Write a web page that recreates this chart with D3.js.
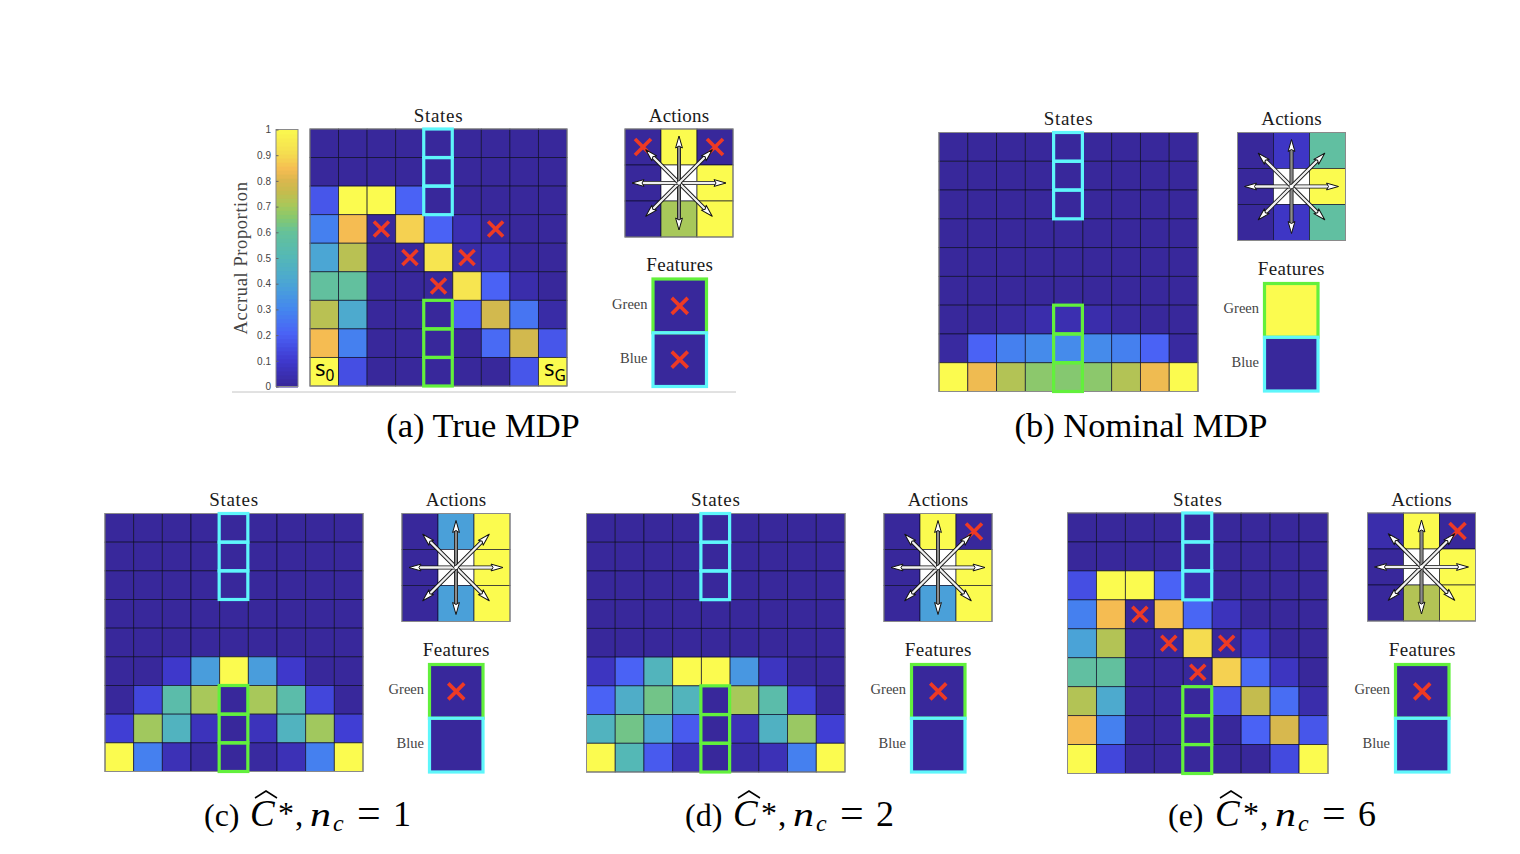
<!DOCTYPE html>
<html>
<head>
<meta charset="utf-8">
<script src="https://cdn.jsdelivr.net/npm/d3@7"></script>
<style>
  html, body { margin: 0; padding: 0; background: #fff; }
  svg { font-family: "Liberation Serif", serif; }
</style>
</head>
<body>
<svg id="chart" width="1520" height="854"></svg>
<script>
// accrual proportion per state, row 0 is the top row
const statesA = [
  [0, 0, 0, 0, 0, 0, 0, 0, 0],
  [0, 0, 0, 0, 0, 0, 0, 0, 0],
  [.17, 1, 1, .2, 0, 0, 0, 0, 0],
  [.28, .84, 0, .88, .2, .04, 0, 0, 0],
  [.4, .73, 0, 0, .93, .02, .04, 0, 0],
  [.58, .58, 0, 0, 0, .93, .2, .03, 0],
  [.73, .42, 0, 0, 0, .2, .78, .25, .02],
  [.84, .28, 0, 0, 0, 0, .22, .78, .17],
  [1, .15, 0, 0, 0, 0, 0, .17, 1]
];
const statesB = [
  [0, 0, 0, 0, 0, 0, 0, 0, 0],
  [0, 0, 0, 0, 0, 0, 0, 0, 0],
  [0, 0, 0, 0, 0, 0, 0, 0, 0],
  [0, 0, 0, 0, 0, 0, 0, 0, 0],
  [0, 0, 0, 0, 0, 0, 0, 0, 0],
  [0, 0, 0, 0, 0, 0, 0, 0, 0],
  [0, 0, .01, .03, .04, .03, .01, 0, 0],
  [.01, .2, .28, .31, .31, .31, .28, .2, .01],
  [1, .83, .72, .66, .65, .66, .72, .83, 1]
];
const statesC = [
  [0, 0, 0, 0, 0, 0, 0, 0, 0],
  [0, 0, 0, 0, 0, 0, 0, 0, 0],
  [0, 0, 0, 0, 0, 0, 0, 0, 0],
  [0, 0, 0, 0, 0, 0, 0, 0, 0],
  [0, 0, 0, 0, 0, 0, 0, 0, 0],
  [0, 0, .09, .37, 1, .37, .09, 0, 0],
  [0, .13, .54, .7, 0, .7, .54, .13, 0],
  [.11, .69, .47, .06, 0, .06, .47, .69, .11],
  [1, .28, .05, .01, 0, .01, .05, .28, 1]
];
const statesD = [
  [0, 0, 0, 0, 0, 0, 0, 0, 0],
  [0, 0, 0, 0, 0, 0, 0, 0, 0],
  [0, 0, 0, 0, 0, 0, 0, 0, 0],
  [0, 0, 0, 0, 0, 0, 0, 0, 0],
  [0, 0, 0, 0, 0, 0, 0, 0, 0],
  [.07, .2, .48, 1, 1, .35, .07, 0, 0],
  [.2, .44, .62, .48, 0, .7, .54, .12, 0],
  [.47, .62, .4, .18, 0, .05, .46, .68, .11],
  [1, .5, .18, .05, 0, .02, .05, .28, 1]
];
const statesE = [
  [0, 0, 0, 0, 0, 0, 0, 0, 0],
  [0, 0, 0, 0, 0, 0, 0, 0, 0],
  [.15, 1, 1, .2, .03, 0, 0, 0, 0],
  [.28, .84, 0, .85, .21, .06, 0, 0, 0],
  [.39, .72, 0, 0, .9, 0, .07, 0, 0],
  [.57, .58, 0, 0, 0, .88, .22, .07, 0],
  [.72, .42, 0, 0, 0, .17, .75, .23, .03],
  [.84, .28, 0, 0, 0, 0, .2, .79, .17],
  [1, .13, 0, 0, 0, 0, 0, .14, 1]
];

// null is the white centre cell under the arrows
const actionsA = [[0, 1, 0], [0, null, 1], [0, .7, 1]];
const actionsB = [[0, .08, .57], [0, null, 1], [0, .08, .57]];
const actionsC = [[0, .38, 1], [0, null, 1], [0, .38, 1]];
const actionsD = [[0, 1, 0], [0, null, 1], [0, .38, 1]];
const actionsE = [[.03, 1, 0], [0, null, 1], [0, .72, 1]];

const featuresA = [0, 0];
const featuresB = [1, 0];
const featuresC = [0, 0];
const featuresD = [0, 0];
const featuresE = [0, 0];

// [row, col] of the crossed out cells
const crossesStatesA = [[3, 2], [3, 6], [4, 3], [4, 5], [5, 4]];
const crossesStatesE = [[3, 2], [4, 3], [4, 5], [5, 4]];
const crossesActionsA = [[0, 0], [0, 2]];
const crossesActionsD = [[0, 2]];
const crossesFeaturesA = [0, 1];
const crossesFeaturesC = [0];

const featureNames = ["Green", "Blue"];
const colorbarTicks = [0, .1, .2, .3, .4, .5, .6, .7, .8, .9, 1];
const colormapStops = [0, .1, .2, .3, .4, .5, .6, .65, .7, .75, .8, .84, .9, 1];
const colormapColors = ["#38289b", "#3f3ad0", "#4a62f5", "#4488ee", "#4ba6d4", "#54b8b6", "#66c298",
  "#85c870", "#a8c85a", "#c4bc4e", "#dcb74e", "#f5bc52", "#f5dc50", "#fbfb4f"];

const color = d3.scaleLinear().domain(colormapStops).range(colormapColors);

const CYAN = "#5ef6fb", GREEN = "#62f03c", RED = "#ee3a24";

const svg = d3.select("#chart");

function crossAt(g, cx, cy, r) {
  g.append("path")
    .attr("d", `M${cx - r},${cy - r}L${cx + r},${cy + r}M${cx + r},${cy - r}L${cx - r},${cy + r}`)
    .attr("stroke", RED).attr("stroke-width", 3.6).attr("fill", "none");
}

function title(g, x, y, label, spacing) {
  g.append("text").attr("x", x).attr("y", y)
    .attr("text-anchor", "middle")
    .attr("font-size", 19).attr("letter-spacing", spacing).attr("fill", "#1a1a1a")
    .text(label);
}

function drawStates(g, values, crosses, size) {
  const idx = d3.range(9);
  const x = d3.scaleBand().domain(idx).range([0, size]);
  const y = d3.scaleBand().domain(idx).range([0, size]);

  g.selectAll(".row").data(values).enter().append("g")
    .attr("transform", (d, i) => `translate(0,${y(i)})`)
    .selectAll("rect").data(d => d).enter().append("rect")
    .attr("x", (d, i) => x(i))
    .attr("width", x.bandwidth()).attr("height", y.bandwidth())
    .attr("fill", d => color(d))
    .attr("stroke", "#0c0c28").attr("stroke-opacity", .75).attr("stroke-width", .9);

  g.append("rect").attr("width", size).attr("height", size)
    .attr("fill", "none").attr("stroke", "#8a8a8a").attr("stroke-width", 1);

  crosses.forEach(c => crossAt(g, x(c[1]) + x.bandwidth() / 2, y(c[0]) + y.bandwidth() / 2, 7.5));

  // feature columns
  [[CYAN, [0, 1, 2]], [GREEN, [6, 7, 8]]].forEach(([stroke, rows]) => {
    g.selectAll(null).data(rows).enter().append("rect")
      .attr("x", x(4) - .5).attr("y", d => y(d))
      .attr("width", x.bandwidth()).attr("height", y.bandwidth())
      .attr("fill", "none").attr("stroke", stroke).attr("stroke-width", 3.2);
  });

  title(g, size / 2, -7.5, "States", .7);
}

function drawArrow(g, cx, cy, angle, len) {
  const a = g.append("g").attr("transform", `translate(${cx},${cy}) rotate(${angle})`);
  const vertical = Math.abs(Math.sin(angle * Math.PI / 180)) > .99;
  a.append("line").attr("x2", len - 6).attr("stroke", "#111").attr("stroke-width", 4);
  a.append("line").attr("x2", len - 6).attr("stroke", vertical ? "#8c8c8c" : "#f0f0f0").attr("stroke-width", 2.4);
  a.append("path")
    .attr("d", `M${len},0L${len - 12},-3.4L${len - 10},0L${len - 12},3.4Z`)
    .attr("fill", "#fff").attr("stroke", "#111").attr("stroke-width", 1).attr("stroke-linejoin", "round");
}

function drawActions(g, values, crosses) {
  const size = 108;
  const idx = d3.range(3);
  const x = d3.scaleBand().domain(idx).range([0, size]);
  const y = d3.scaleBand().domain(idx).range([0, size]);

  g.selectAll(".row").data(values).enter().append("g")
    .attr("transform", (d, i) => `translate(0,${y(i)})`)
    .selectAll("rect").data(d => d).enter().append("rect")
    .attr("x", (d, i) => x(i))
    .attr("width", x.bandwidth()).attr("height", y.bandwidth())
    .attr("fill", d => d === null ? "#fff" : color(d))
    .attr("stroke", "#0c0c28").attr("stroke-opacity", .7).attr("stroke-width", .9);

  g.append("rect").attr("width", size).attr("height", size)
    .attr("fill", "none").attr("stroke", "#8a8a8a").attr("stroke-width", 1);

  crosses.forEach(c => crossAt(g, x(c[1]) + x.bandwidth() / 2, y(c[0]) + y.bandwidth() / 2, 8));

  d3.range(0, 360, 45).forEach(angle => drawArrow(g, size / 2, size / 2, angle, 47));
  g.append("circle").attr("cx", size / 2).attr("cy", size / 2).attr("r", 1.8).attr("fill", "#fff");

  title(g, size / 2, -7.5, "Actions", .2);
}

function drawFeatures(g, values, crosses) {
  const w = 53.5, h = 107.5;
  const y = d3.scaleBand().domain(featureNames).range([0, h]);

  g.selectAll("rect.cell").data(values).enter().append("rect")
    .attr("class", "cell")
    .attr("y", (d, i) => y(featureNames[i]))
    .attr("width", w).attr("height", y.bandwidth())
    .attr("fill", d => color(d));

  g.append("g")
    .call(d3.axisLeft(y).tickSize(0).tickPadding(5.5))
    .call(a => a.select(".domain").remove())
    .selectAll("text")
    .style("font-family", "Liberation Serif")
    .attr("dy", "0.2em")
    .attr("font-size", 14.5).attr("fill", "#444");

  crosses.forEach(i => crossAt(g, w / 2, y(featureNames[i]) + y.bandwidth() / 2, 8));

  [[GREEN, 0], [CYAN, 1]].forEach(([stroke, i]) => {
    g.append("rect")
      .attr("y", y(featureNames[i])).attr("width", w).attr("height", y.bandwidth())
      .attr("fill", "none").attr("stroke", stroke).attr("stroke-width", 3.2);
  });

  title(g, w / 2, -8.5, "Features", .3);
}

function drawColorbar(g, w, h) {
  const y = d3.scaleLinear().domain([0, 1]).range([h, 0]);
  const steps = d3.range(0, 1, 1 / 64);
  g.selectAll("rect").data(steps).enter().append("rect")
    .attr("y", d => y(d + 1 / 64)).attr("width", w).attr("height", h / 64 + 1)
    .attr("fill", d => color(d));
  g.append("rect").attr("width", w).attr("height", h)
    .attr("fill", "none").attr("stroke", "#8a8a8a");
  g.append("g")
    .call(d3.axisLeft(y).tickValues(colorbarTicks).tickSize(-2.5).tickPadding(5).tickFormat(d3.format("~g")))
    .call(a => a.select(".domain").remove())
    .call(a => a.selectAll("line").attr("stroke", "#666"))
    .selectAll("text")
    .style("font-family", "Liberation Sans").attr("font-size", 10).attr("fill", "#444");
  g.append("text")
    .attr("transform", `translate(-29.5,${h / 2}) rotate(-90)`)
    .attr("text-anchor", "middle")
    .attr("font-size", 18.5).attr("letter-spacing", .6).attr("fill", "#444")
    .text("Accrual Proportion");
}

function startLabel(g, x, y, sub) {
  const t = g.append("text").attr("x", x).attr("y", y).attr("fill", "#000")
    .style("font-family", "Noto Sans");
  t.append("tspan").attr("font-size", 22).text("s");
  t.append("tspan").attr("font-size", 15.5).attr("dy", 5).text(sub);
}

function mathCaption(left, mathX, base, letter, digit) {
  const g = svg.append("g").attr("fill", "#000");
  const put = (x, y, size, str, italic) => g.append("text")
    .attr("x", x).attr("y", y).attr("font-size", size)
    .attr("font-style", italic ? "italic" : "normal").text(str);
  put(left, base, 32, `(${letter})`);
  put(mathX, base, 37, "C", true);
  put(mathX + 28, base - 2, 32, "*");
  put(mathX + 45, base, 33, ",");
  put(mathX + 60, base, 33, "n", true).attr("textLength", 21).attr("lengthAdjust", "spacingAndGlyphs");
  put(mathX + 83, base + 5, 24, "c", true);
  put(mathX + 107, base + 1, 42, "=");
  put(mathX + 143, base, 36, digit);
  g.append("path")
    .attr("d", `M${mathX + 5},${base - 28}L${mathX + 16},${base - 35}L${mathX + 27},${base - 28}`)
    .attr("fill", "none").attr("stroke", "#000").attr("stroke-width", 1.5);
}

const panels = [
  { x: 310, y: 129, size: 257, ax: 625, ay: 129, fx: 653, fy: 279, s: statesA, a: actionsA, f: featuresA, cs: crossesStatesA, ca: crossesActionsA, cf: crossesFeaturesA },
  { x: 939, y: 132.5, size: 259, ax: 1237.5, ay: 132.5, fx: 1264.5, fy: 283.5, s: statesB, a: actionsB, f: featuresB, cs: [], ca: [], cf: [] },
  { x: 105, y: 513.5, size: 258, ax: 402, ay: 513.5, fx: 429.5, fy: 664.5, s: statesC, a: actionsC, f: featuresC, cs: [], ca: [], cf: crossesFeaturesC },
  { x: 586.5, y: 513.5, size: 258.5, ax: 884, ay: 513.5, fx: 911.5, fy: 664.5, s: statesD, a: actionsD, f: featuresD, cs: [], ca: crossesActionsD, cf: crossesFeaturesC },
  { x: 1067.5, y: 513, size: 260.5, ax: 1367.5, ay: 513, fx: 1395.5, fy: 664.5, s: statesE, a: actionsE, f: featuresE, cs: crossesStatesE, ca: crossesActionsD, cf: crossesFeaturesC }
];

panels.forEach(p => {
  drawStates(svg.append("g").attr("transform", `translate(${p.x},${p.y})`), p.s, p.cs, p.size);
  drawActions(svg.append("g").attr("transform", `translate(${p.ax},${p.ay})`), p.a, p.ca);
  drawFeatures(svg.append("g").attr("transform", `translate(${p.fx},${p.fy})`), p.f, p.cf);
});

drawColorbar(svg.append("g").attr("transform", "translate(276,129.5)"), 22, 257);
startLabel(svg, 315, 376, "0");
startLabel(svg, 544, 376, "G");

// rule under the first panel
svg.append("line").attr("x1", 232).attr("x2", 736).attr("y1", 392).attr("y2", 392)
  .attr("stroke", "#c4c4c4").attr("stroke-width", 1);

[[483, "(a) True MDP"], [1141, "(b) Nominal MDP"]].forEach(([x, label]) => {
  svg.append("text").attr("x", x).attr("y", 437).attr("text-anchor", "middle")
    .attr("font-size", 34.5).attr("fill", "#000").text(label);
});
mathCaption(204, 250, 826, "c", "1");
mathCaption(685, 733, 826, "d", "2");
mathCaption(1168, 1215, 826, "e", "6");
</script>
</body>
</html>
